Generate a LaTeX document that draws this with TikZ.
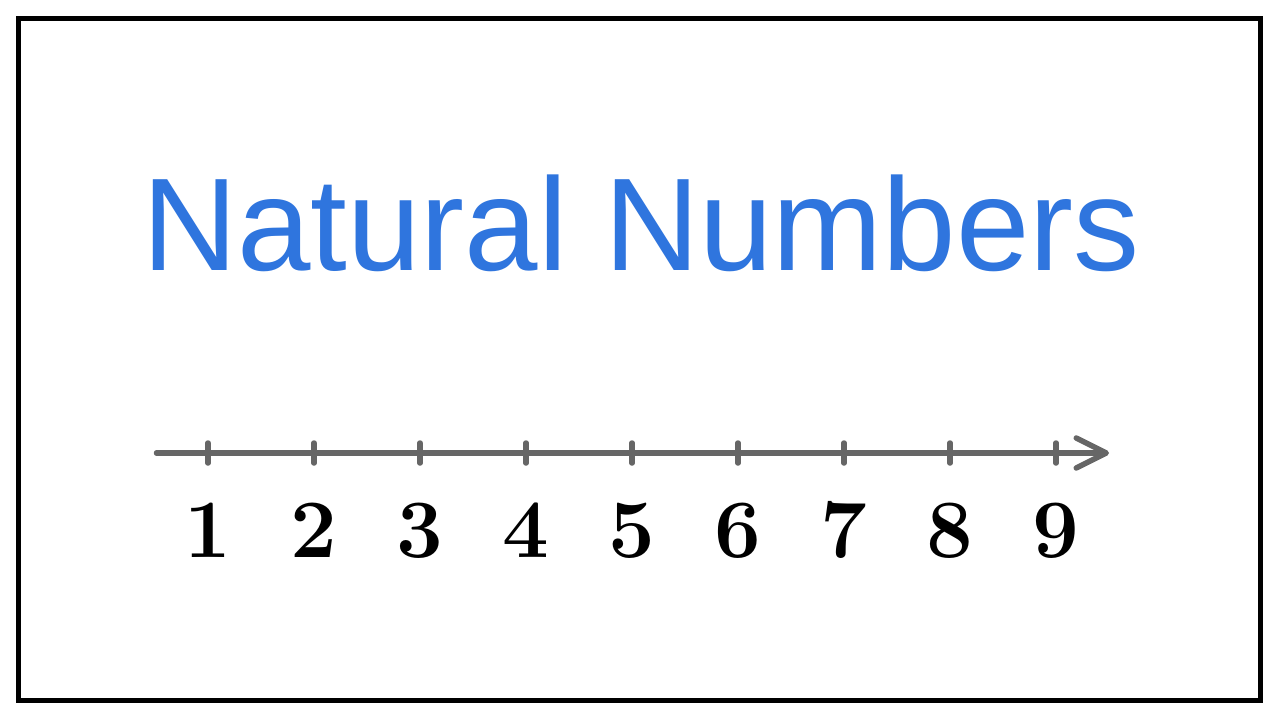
\documentclass[tikz,border=0pt]{standalone}
\usepackage{fontspec}
\newfontfamily\titlefont{Liberation Sans}
\usetikzlibrary{arrows.meta}
\definecolor{titleblue}{RGB}{47,117,222}
\definecolor{axisgray}{RGB}{102,102,102}
\begin{document}
\begin{tikzpicture}[x=1pt,y=-1pt,
  axis/.style={draw=axisgray,line width=5.5pt,line cap=round},
  tickmark/.style={draw=axisgray,line width=5.5pt,line cap=round},
  numlabel/.style={anchor=base,inner sep=0pt,font=\fontsize{83}{83}\selectfont\bfseries}]
\useasboundingbox (0,0) rectangle (1280,720);
\fill[white] (0,0) rectangle (1280,720);
\draw[line width=5pt] (18.5,18.5) rectangle (1260.5,700.5);
\node[anchor=base,inner sep=0pt,text=titleblue,font=\titlefont\fontsize{132}{132}\selectfont] (title) at (641,270) {Natural Numbers};
\coordinate (start) at (156.5,453);
\coordinate (end) at (1109,453);
\draw[axis,-{Straight Barb[length=30pt,width=30pt,line width=5.5pt,round]}] (start) -- (end);
\foreach \i in {1,...,9}{
  \coordinate (t\i) at ({208+106*(\i-1)},453);
  \draw[tickmark] ([yshift=-10pt]t\i) -- ([yshift=10pt]t\i);
  \node[numlabel] (n\i) at ({208+106*(\i-1)},557) {\i};
}
\end{tikzpicture}
\end{document}
